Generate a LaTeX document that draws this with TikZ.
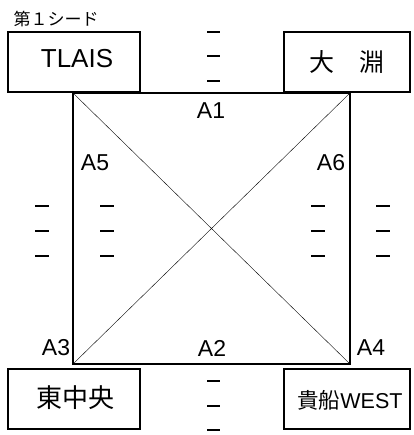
\documentclass[tikz,border=0pt]{standalone}
\usepackage{fontspec}
\setmainfont{Liberation Sans}
\newfontfamily\jp{Noto Sans CJK JP}
\usetikzlibrary{positioning}

\tikzset{
  team/.style={draw, line width=2.8pt, inner sep=0pt, minimum height=60pt},
  court/.style={line width=2pt},
  match/.style={font=\fontsize{23}{23}\selectfont, inner sep=0pt},
  dash line/.style={line width=2.8pt},
}

\begin{document}
\begin{tikzpicture}[x=1pt,y=-1pt]
            \useasboundingbox (0,0) rectangle (413,435);
            % corners of the square
            \coordinate (c1) at (73,93);
            \coordinate (c2) at (350,93);
            \coordinate (c3) at (73,364);
            \coordinate (c4) at (350,364);
            \draw[court] (c1) -- (c2) -- (c4) -- (c3) -- cycle;
            \draw[thin] (c1) -- (c4);
            \draw[thin] (c2) -- (c3);
            % team boxes
            \node[team, minimum width=132pt] (tlais) at (74,62) {};
            \node[team, minimum width=126pt] (obuchi) at (347,62) {};
            \node[team, minimum width=132pt] (higashi) at (74,399) {};
            \node[team, minimum width=126pt] (kibune) at (347,399) {};
            \node[inner sep=0pt, font=\fontsize{26}{26}\selectfont] (tlaist) at (77,59) {TLAIS};
            \node[inner sep=0pt, font=\jp\fontsize{25}{25}\selectfont] (obucht) at (347,62) {大　淵};
            \node[inner sep=0pt, font=\jp\fontsize{26}{26}\selectfont] (higasht) at (75,398) {東中央};
            \node[inner sep=0pt, font=\fontsize{21.5}{21.5}\selectfont] (kibunt) at (350,400) {{\jp 貴船}WEST};
            \node[inner sep=0pt, font=\jp\fontsize{17}{17}\selectfont] (seed) at (56,19) {第１シード};
            % match labels
            \node[match] (a1) at (211,111) {A1};
            \node[match] (a2) at (212,348) {A2};
            \node[match] (a3) at (56,348) {A3};
            \node[match] (a4) at (371,348) {A4};
            \node[match] (a5) at (95,163) {A5};
            \node[match] (a6) at (331,163) {A6};
            % dashes
            \foreach \y in {32,56,81,381,406,430}
              \draw[dash line] (207,\y) -- (220,\y);
            \foreach \x in {35,100,311,376}
              \foreach \y in {206,231,256}
                \draw[dash line] (\x,\y) -- ++(14,0);
          \end{tikzpicture}
\end{document}
